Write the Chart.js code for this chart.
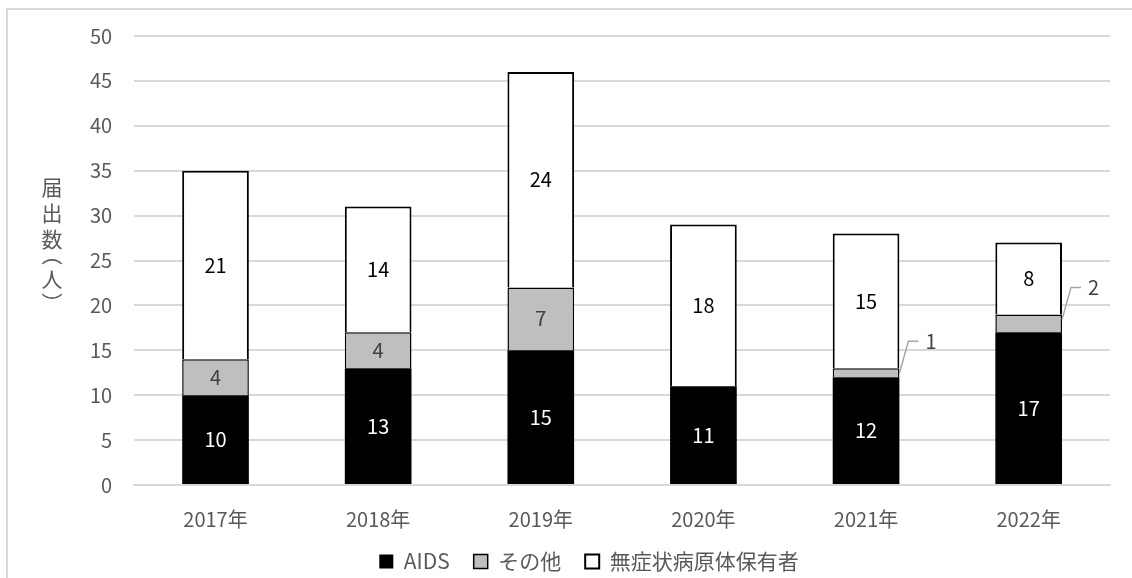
<!DOCTYPE html>
<html>
<head>
<meta charset="utf-8">
<script src="https://cdn.jsdelivr.net/npm/chart.js@4/dist/chart.umd.min.js"></script>
<style>
  html, body { margin: 0; padding: 0; background: #fff; }
</style>
</head>
<body>
<canvas id="myChart" width="1132" height="578"></canvas>
<script>
// data
var years = ['2017年', '2018年', '2019年', '2020年', '2021年', '2022年'];
var aids = [10, 13, 15, 11, 12, 17];
var others = [4, 4, 7, 0, 1, 2];
var carriers = [21, 14, 24, 18, 15, 8];
var seriesNames = ['AIDS', 'その他', '無症状病原体保有者'];
var yTitle = ['届', '出', '数', '（', '人', '）'];

var FONT = "'Noto Sans CJK JP', 'Noto Sans', sans-serif";
var labelColors = ['#ffffff', '#404040', '#000000'];

// frame lines of the original picture
var framePlugin = {
  id: 'frame',
  beforeDraw: function(chart) {
    var ctx = chart.ctx;
    ctx.save();
    ctx.strokeStyle = '#d9d9d9';
    ctx.lineWidth = 2;
    ctx.beginPath();
    ctx.moveTo(7, 578);
    ctx.lineTo(7, 9);
    ctx.lineTo(1132, 9);
    ctx.stroke();
    ctx.restore();
  }
};

// vertical y axis title, one character under another
var titleY = [187, 213, 239, 262, 279, 296];
var yTitlePlugin = {
  id: 'yTitle',
  afterDraw: function(chart) {
    var ctx = chart.ctx;
    ctx.save();
    ctx.fillStyle = '#595959';
    ctx.font = '21px ' + FONT;
    var x = 52;
    for (var i = 0; i < yTitle.length; i++) {
      var ch = yTitle[i];
      if (ch == '（' || ch == '）') {
        // brackets turn sideways in vertical writing, centred on their ink
        ctx.textAlign = 'left';
        ctx.textBaseline = 'alphabetic';
        var m = ctx.measureText(ch);
        var cx = (m.actualBoundingBoxRight - m.actualBoundingBoxLeft) / 2;
        var cy = (m.actualBoundingBoxDescent - m.actualBoundingBoxAscent) / 2;
        ctx.save();
        ctx.translate(x, titleY[i]);
        ctx.rotate(Math.PI / 2);
        ctx.fillText(ch, -cx, -cy);
        ctx.restore();
      } else {
        ctx.textAlign = 'center';
        ctx.textBaseline = 'middle';
        ctx.fillText(ch, x, titleY[i]);
      }
    }
    ctx.restore();
  }
};

// legend sits lower than the layout would put it
var legendPlugin = {
  id: 'legendPos',
  afterLayout: function(chart) {
    var lg = chart.legend;
    lg.top = 527;
    lg.bottom = 578;
    lg.height = 51;
  }
};

// value labels inside the bars, callouts for the thin ones
var valuePlugin = {
  id: 'values',
  afterDatasetsDraw: function(chart) {
    var ctx = chart.ctx;
    ctx.save();
    ctx.font = '20px ' + FONT;
    ctx.textBaseline = 'middle';
    chart.data.datasets.forEach(function(ds, di) {
      var meta = chart.getDatasetMeta(di);
      meta.data.forEach(function(bar, i) {
        var v = ds.data[i];
        if (!v) return;
        var top = Math.min(bar.y, bar.base), bottom = Math.max(bar.y, bar.base);
        if (bottom - top < 24) {
          var x0 = bar.x + bar.width / 2;
          var y0 = top + 5;
          var x1 = x0 + 9, y1 = y0 - 32;
          ctx.strokeStyle = '#a6a6a6';
          ctx.lineWidth = 1.5;
          ctx.beginPath();
          ctx.moveTo(x0, y0);
          ctx.lineTo(x1, y1);
          ctx.lineTo(x1 + 10, y1);
          ctx.stroke();
          ctx.fillStyle = '#404040';
          ctx.textAlign = 'left';
          ctx.fillText(String(v), x1 + 17, y1);
        } else {
          ctx.fillStyle = labelColors[di];
          ctx.textAlign = 'center';
          ctx.fillText(String(v), bar.x, (top + bottom) / 2);
        }
      });
    });
    ctx.restore();
  }
};

var ctx = document.getElementById('myChart');
new Chart(ctx, {
  type: 'bar',
  data: {
    labels: years,
    datasets: [
      { label: seriesNames[0], data: aids, backgroundColor: '#000000', borderColor: '#000000', borderWidth: 0 },
      { label: seriesNames[1], data: others, backgroundColor: '#bfbfbf', borderColor: '#000000', borderWidth: 1.5 },
      { label: seriesNames[2], data: carriers, backgroundColor: '#ffffff', borderColor: '#000000', borderWidth: 2 }
    ]
  },
  options: {
    responsive: false,
    animation: false,
    devicePixelRatio: 1,
    layout: { padding: { left: 68, right: 22, top: 36, bottom: 13 } },
    datasets: { bar: { categoryPercentage: 1, barPercentage: 0.41 } },
    scales: {
      x: {
        stacked: true,
        grid: { display: false },
        border: { color: '#d9d9d9', width: 2 },
        ticks: { color: '#595959', font: { family: FONT, size: 20 }, padding: 14 }
      },
      y: {
        stacked: true,
        min: 0,
        max: 50,
        ticks: { stepSize: 5, color: '#595959', font: { family: FONT, size: 20 }, padding: 22 },
        grid: { color: '#d9d9d9', lineWidth: 2, drawTicks: false },
        border: { display: false }
      }
    },
    plugins: {
      legend: {
        position: 'bottom',
        maxHeight: 20,
        labels: {
          color: '#595959',
          font: { family: FONT, size: 21 },
          boxWidth: 14,
          boxHeight: 14,
          padding: 24
        }
      },
      tooltip: { enabled: false }
    }
  },
  plugins: [framePlugin, yTitlePlugin, legendPlugin, valuePlugin]
});
</script>
</body>
</html>
